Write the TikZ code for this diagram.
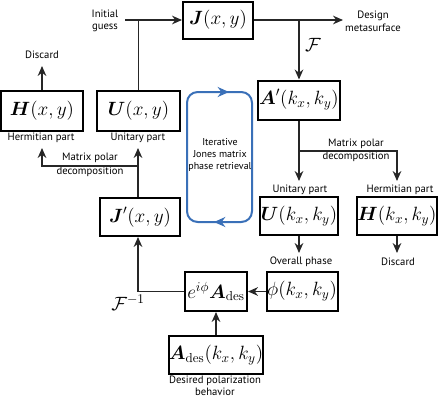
\documentclass[tikz,border=0pt]{standalone}
\usepackage{amsmath}
\usepackage{fontspec}
\newfontfamily\labelfont{PT Sans}
\usetikzlibrary{arrows.meta}
\definecolor{loopblue}{RGB}{58,112,184}

\begin{document}
\begin{tikzpicture}[x=0.75pt,y=0.75pt,yscale=-1,xscale=1,
    box/.style={draw, line width=1.5pt, inner sep=0pt, font=\fontsize{14}{16}\selectfont},
    lbl/.style={inner sep=0.75pt, align=center, font=\labelfont\fontsize{8}{9.5}\selectfont},
    conn/.style={line width=1.1pt, draw=black!85},
    arr/.style={conn, -{Stealth[length=7.5pt,width=6.5pt]}}]
        \useasboundingbox (0,0) rectangle (440,400);

        %Shape: Box [id:J]
        \node [box, minimum width=52.5pt, minimum height=27.75pt] (J) at (218,20) {$\boldsymbol{J}(x,y)$};
        %Shape: Box [id:Ap]
        \node [box, minimum width=61.5pt, minimum height=29.25pt] (Ap) at (299,100) {$\boldsymbol{A}'(k_x,k_y)$};
        %Shape: Box [id:Hxy]
        \node [box, minimum width=60.75pt, minimum height=30pt] (Hxy) at (42,111) {$\boldsymbol{H}(x,y)$};
        %Shape: Box [id:Uxy]
        \node [box, minimum width=62.25pt, minimum height=30pt] (Uxy) at (138.5,111) {$\boldsymbol{U}(x,y)$};
        %Shape: Box [id:Jp]
        \node [box, minimum width=60pt, minimum height=28.5pt] (Jp) at (140,217) {$\boldsymbol{J}'(x,y)$};
        %Shape: Box [id:Uk]
        \node [box, minimum width=58.5pt, minimum height=29pt] (Uk) at (299,216) {$\boldsymbol{U}(k_x,k_y)$};
        %Shape: Box [id:Hk]
        \node [box, minimum width=59.25pt, minimum height=29pt] (Hk) at (397,216) {$\boldsymbol{H}(k_x,k_y)$};
        %Shape: Box [id:E]
        \node [box, minimum width=46.5pt, minimum height=29.25pt] (E) at (216,291.5) {$e^{i\phi}\boldsymbol{A}_{\mathrm{des}}$};
        %Shape: Box [id:Phi]
        \node [box, minimum width=53.25pt, minimum height=29.25pt] (Phi) at (302,291.5) {$\phi(k_x,k_y)$};
        %Shape: Box [id:Ades]
        \node [box, minimum width=70.5pt, minimum height=28.5pt] (Ades) at (216,355) {$\boldsymbol{A}_{\mathrm{des}}(k_x,k_y)$};

        % Text Node
        \node [lbl] (guess) at (105,21) {Initial\\guess};
        % Text Node
        \node [lbl] (meta) at (373,21) {Design\\metasurface};
        % Text Node
        \node [inner sep=0.75pt, font=\fontsize{14}{16}\selectfont] (ft) at (313,45) {$\mathcal{F}$};
        % Text Node
        \node [lbl] (discL) at (42,55) {Discard};
        % Text Node
        \node [lbl] (hermL) at (41,138) {Hermitian part};
        % Text Node
        \node [lbl] (unitL) at (138,138) {Unitary part};
        % Text Node
        \node [lbl, font=\labelfont\fontsize{8}{10.5}\selectfont] (polL) at (90,165) {Matrix polar\\decomposition};
        % Text Node
        \node [lbl, font=\labelfont\fontsize{8}{9.5}\selectfont] (polR) at (356,150) {Matrix polar\\decomposition};
        % Text Node
        \node [lbl] (unitR) at (300,190) {Unitary part};
        % Text Node
        \node [lbl] (hermR) at (400,190) {Hermitian part};
        % Text Node
        \node [lbl] (phase) at (301,262) {Overall phase};
        % Text Node
        \node [lbl] (discR) at (398,262) {Discard};
        % Text Node
        \node [inner sep=0.75pt, font=\fontsize{14}{16}\selectfont] (ift) at (128,303) {$\mathcal{F}^{-1}$};
        % Text Node
        \node [lbl, font=\labelfont\fontsize{8}{9}\selectfont] (want) at (215,386) {Desired polarization\\behavior};
        % Text Node
        \node [lbl, font=\labelfont\fontsize{7.5}{9}\selectfont] (loop) at (220,155) {Iterative\\Jones matrix\\phase retrieval};

        % free ends
        \coordinate (igs) at (125,20);
        \coordinate (dms) at (343,20);
        \coordinate (dct) at (42,66);
        \coordinate (upt) at (138,148);
        \coordinate (hpt) at (42,148);
        \coordinate (spl) at (138,166);
        \coordinate (ukt) at (299,181);
        \coordinate (hkt) at (397,181);
        \coordinate (rsp) at (299,151);
        \coordinate (ovt) at (299,253);
        \coordinate (dkt) at (397,253);

        % Connectors
        \draw [arr] (igs) -- (J.west);
        \draw [conn] (Uxy.north) -- (Uxy.north |- J.west);
        \draw [arr] (J.east) -- (dms);
        \draw [arr] (Ap.north |- J.east) -- (Ap.north);
        \draw [arr] (Hxy.north) -- (dct);
        \draw [arr] (Jp.north -| upt) -- (upt);
        \draw [arr] (spl) -| (hpt);
        \draw [arr] (Ap.south) -- (ukt);
        \draw [arr] (rsp) -| (hkt);
        \draw [arr] (Uk.south) -- (ovt);
        \draw [arr] (Hk.south) -- (dkt);
        \draw [arr] (Phi.west) -- (E.east);
        \draw [arr] (Ades.north) -- (E.south);
        \draw [arr] (E.west) -| (Jp.south -| spl);

        %Shape: Rounded loop [id:loop]
        \draw [loopblue, line width=1.5pt, rounded corners=8pt] (187,92) rectangle (252,222);
        \draw [loopblue, line width=1.5pt, -{Stealth[length=8.5pt,width=7.5pt]}] (214,92) -- (229,92);
        \draw [loopblue, line width=1.5pt, -{Stealth[length=8.5pt,width=7.5pt]}] (229,222) -- (214,222);
    \end{tikzpicture}
\end{document}
